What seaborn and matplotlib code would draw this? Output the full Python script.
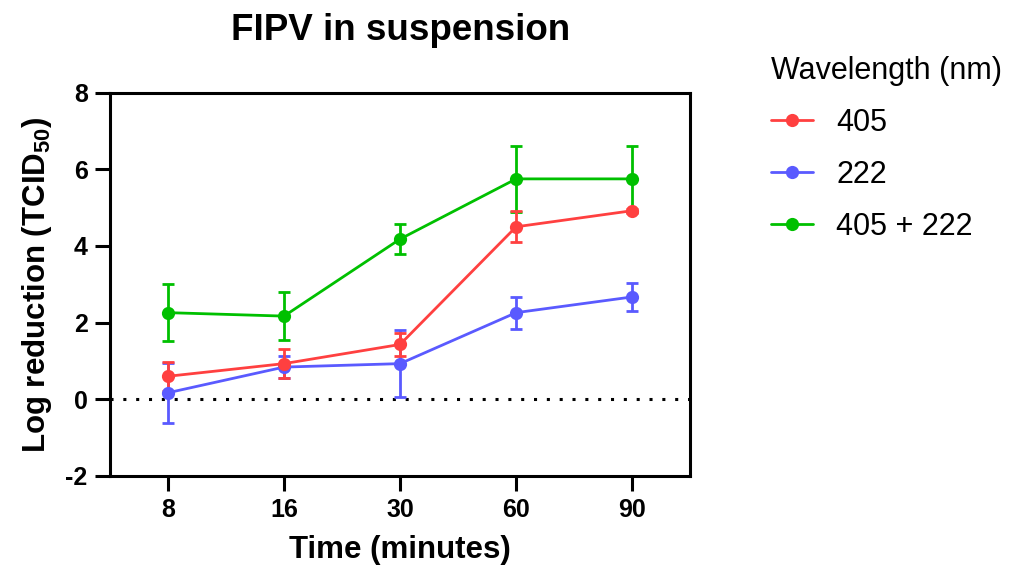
import numpy as np
import pandas as pd
import seaborn as sns
import matplotlib.pyplot as plt

# 時間 (分)
times = ['8', '16', '30', '60', '90']
groups = ['405', '222', '405 + 222']

mean_405 = [0.60, 0.93, 1.43, 4.50, 4.92]
sd_405 = [0.38, 0.37, 0.29, 0.40, 0.05]
mean_222 = [0.17, 0.84, 0.93, 2.26, 2.67]
sd_222 = [0.78, 0.28, 0.87, 0.42, 0.37]
mean_both = [2.26, 2.17, 4.18, 5.75, 5.75]
sd_both = [0.75, 0.63, 0.38, 0.86, 0.86]

colors = {'405': '#FF4040', '222': '#5A5AFF', '405 + 222': '#00C000'}

sns.set_style("ticks")
plt.rcParams['font.family'] = ['Liberation Sans', 'DejaVu Sans']
plt.rcParams['mathtext.fontset'] = 'custom'
plt.rcParams['mathtext.rm'] = 'Liberation Sans'
plt.rcParams['mathtext.bf'] = 'Liberation Sans:bold'
plt.rcParams['axes.unicode_minus'] = False
plt.rcParams['text.color'] = 'black'
plt.rcParams['axes.labelcolor'] = 'black'
plt.rcParams['xtick.color'] = 'black'
plt.rcParams['ytick.color'] = 'black'

# long形式のデータフレームを作る
df = pd.DataFrame({
    'time': times * 3,
    'value': mean_405 + mean_222 + mean_both,
    'sd': sd_405 + sd_222 + sd_both,
    'group': ['405'] * 5 + ['222'] * 5 + ['405 + 222'] * 5,
})

fig = plt.figure(figsize=(10.18, 5.79), dpi=100)
ax = fig.add_axes([0.108, 0.178, 0.570, 0.662])

# ゼロの点線
ax.axhline(0, color='black', linestyle=(0, (1, 3.2)), lw=2.2, zorder=1)

# エラーバー
pos = {t: i for i, t in enumerate(times)}
for k, g in enumerate(['405 + 222', '222', '405']):
    sub = df[df['group'] == g]
    ax.errorbar(sub['time'].map(pos), sub['value'], yerr=sub['sd'], fmt='none',
                ecolor=colors[g], elinewidth=2, capsize=4.6, capthick=2, zorder=2 + k * 0.1)

sns.lineplot(data=df, x='time', y='value', hue='group', hue_order=['405 + 222', '222', '405'],
             palette=colors, marker='o', markersize=9.5, markeredgewidth=0, linewidth=2,
             sort=False, ax=ax, zorder=3, legend=False)

ax.set_xlim(-0.5, 4.5)
ax.set_ylim(-2, 8)
ax.set_yticks(np.arange(-2, 9, 2))
ax.set_xticks(range(len(times)))
ax.set_xticklabels(times)
ax.tick_params(axis='both', labelsize=18, width=2.2, length=11, color='black', pad=5)
for lab in ax.get_xticklabels() + ax.get_yticklabels():
    lab.set_fontweight('bold')
for s in ax.spines.values():
    s.set_linewidth(2.2)
    s.set_color('black')

ax.set_xlabel('Time (minutes)', fontsize=22.5, fontweight='bold', labelpad=9)
ax.set_ylabel(r'Log reduction (TCID$\mathbf{_{50}}$)', fontsize=22.5, fontweight='bold', labelpad=8)
ax.set_title('FIPV in suspension', fontsize=26.5, fontweight='bold', pad=38)

# 凡例
handles = [plt.Line2D([0], [0], color=colors[g], marker='o', markersize=9.5, markeredgewidth=0, lw=2)
           for g in groups]
leg = fig.legend(handles, groups, title='Wavelength (nm)', loc='upper left',
                 bbox_to_anchor=(0.745, 0.925), frameon=False, fontsize=22, title_fontsize=22,
                 handlelength=1.4, handletextpad=0.75, labelspacing=0.72, borderaxespad=0)
leg._legend_box.align = 'left'

fig.savefig('out.png', dpi=100)
